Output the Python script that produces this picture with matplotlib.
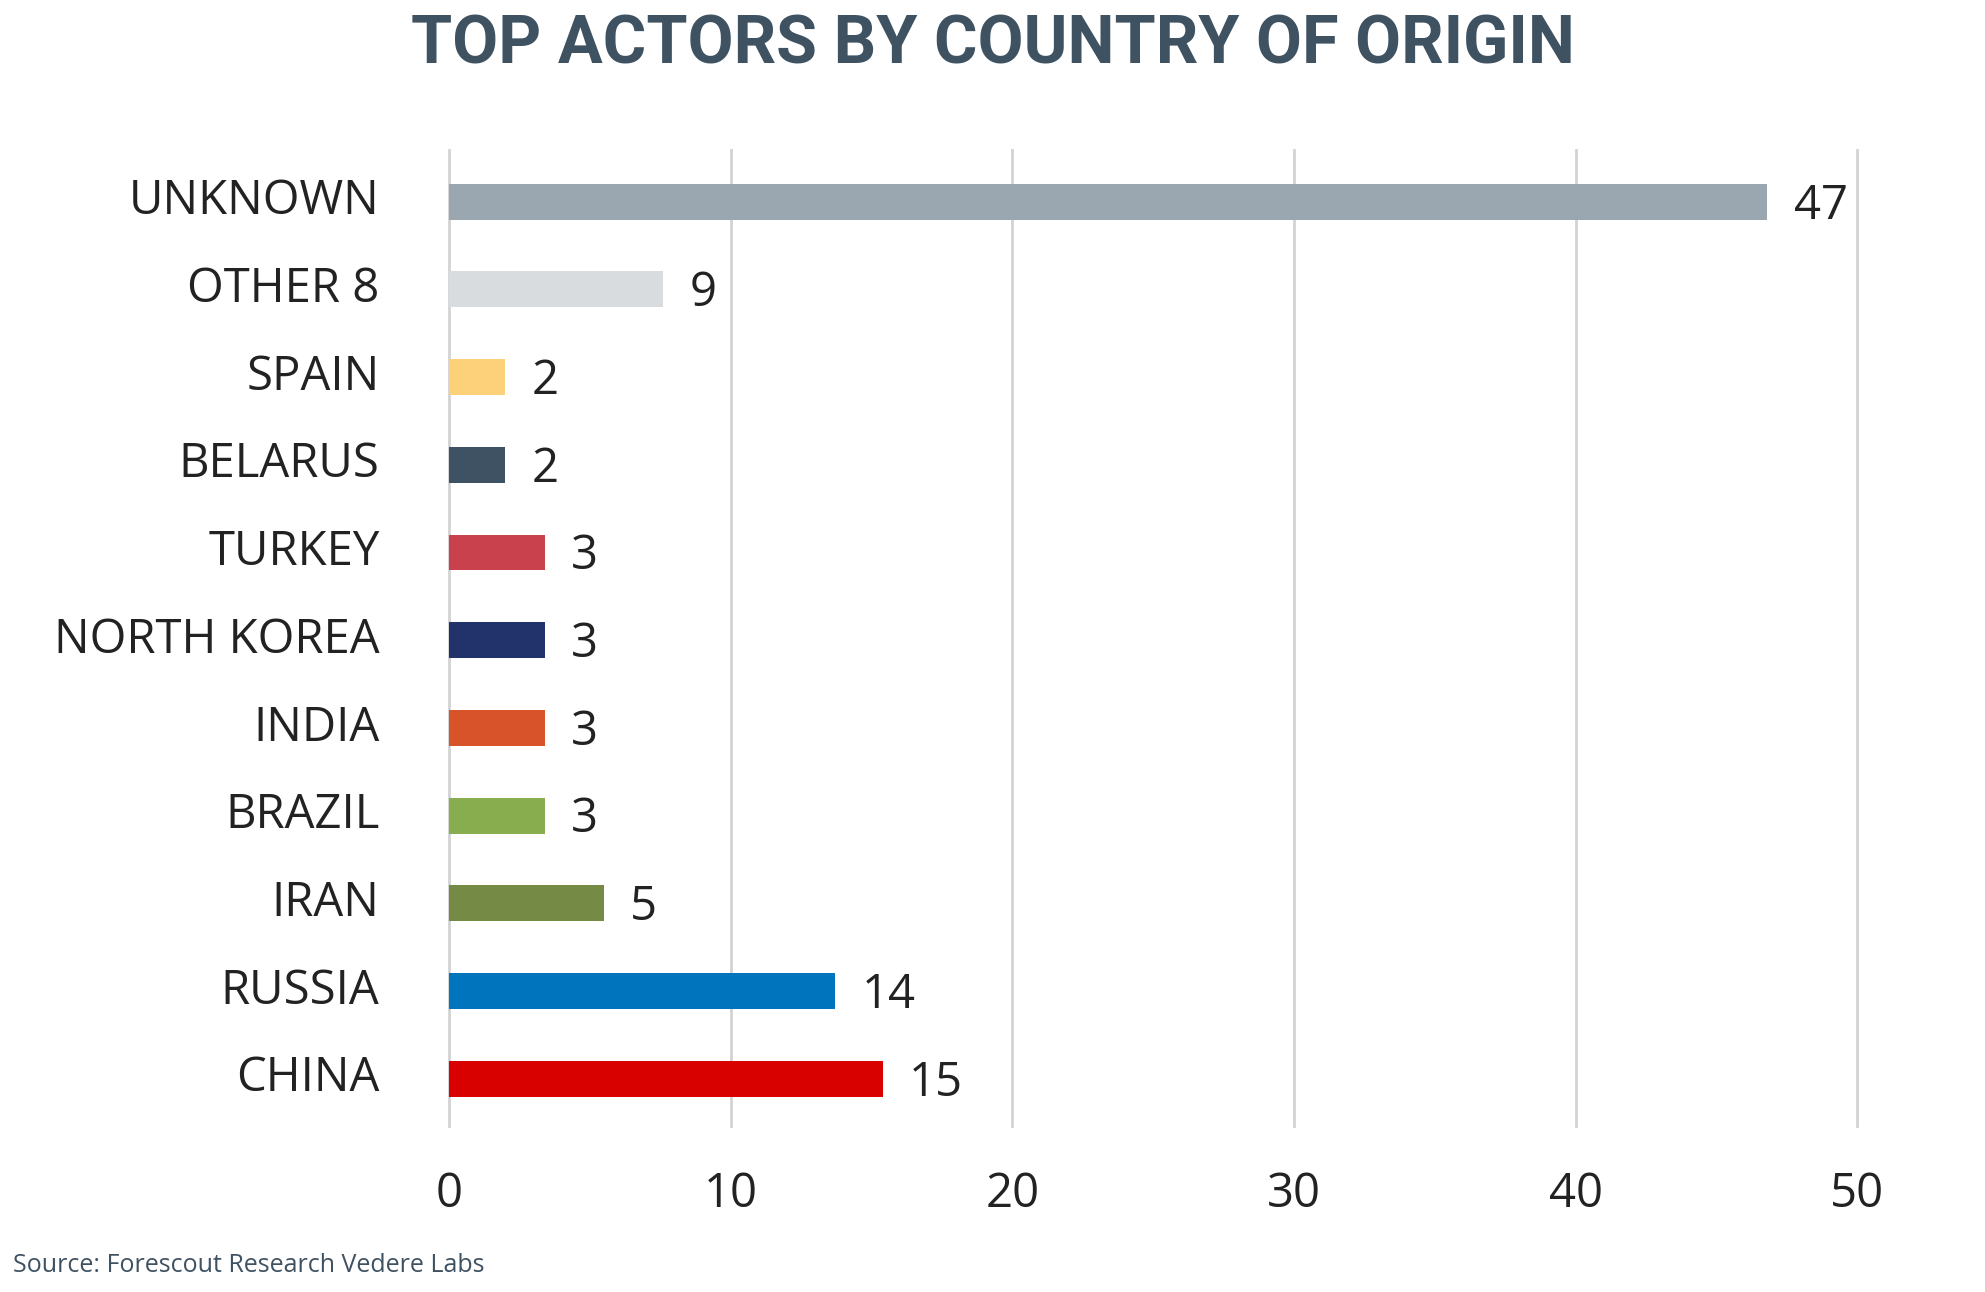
import matplotlib
matplotlib.use("Agg")
import matplotlib.pyplot as plt
import matplotlib.transforms as mtransforms

# data (top to bottom as shown)
countries = ["UNKNOWN", "OTHER 8", "SPAIN", "BELARUS", "TURKEY", "NORTH KOREA",
             "INDIA", "BRAZIL", "IRAN", "RUSSIA", "CHINA"]
counts = [47, 9, 2, 2, 3, 3, 3, 3, 5, 14, 15]
# bar lengths as they are drawn in the source chart
bar_lengths = [46.8, 7.6, 2.0, 2.0, 3.4, 3.4, 3.4, 3.4, 5.5, 13.7, 15.4]
colors = ["#9aa7b1", "#d9dcdf", "#fdd17a", "#3f5263", "#c9414c", "#22336b",
          "#d9532a", "#88ad4f", "#758a44", "#0074bd", "#d90000"]
xticks = [0, 10, 20, 30, 40, 50]

title = "TOP ACTORS BY COUNTRY OF ORIGIN"
source = "Source: Forescout Research Vedere Labs"

plt.rcParams["font.family"] = ["Open Sans", "DejaVu Sans"]

fig = plt.figure(figsize=(19.85, 12.92), dpi=100)
ax = fig.add_axes([0.2262, 0.1285, 0.7095, 0.7554])

n = len(countries)
ypos = [n - 1 - i for i in range(n)]
ax.barh(ypos, bar_lengths, height=0.41, color=colors, zorder=3)

for y, w, c in zip(ypos, bar_lengths, counts):
    ax.annotate(str(c), (w, y), xytext=(19, -3), textcoords="offset points",
                ha="left", va="center", fontsize=34, color="#222222")

ax.set_xlim(0, 50)
ax.set_ylim(-0.54, n - 1 + 0.59)
ax.set_yticks(ypos)
ax.set_yticklabels(countries, fontsize=34, color="#222222")
ax.set_xticks(xticks)
ax.set_xticklabels([str(t) for t in xticks], fontsize=34, color="#222222")
ax.tick_params(axis="y", length=0, pad=50)
ax.tick_params(axis="x", length=0, pad=32)

# category labels sit a little above the bar centre
shift = mtransforms.ScaledTranslation(0, 4 / 72, fig.dpi_scale_trans)
for lbl in ax.get_yticklabels():
    lbl.set_transform(lbl.get_transform() + shift)

for s in ax.spines.values():
    s.set_visible(False)
ax.grid(axis="x", color="#d3d3d3", linewidth=2, zorder=0)
ax.grid(axis="y", visible=False)
for gl in ax.get_xgridlines():
    gl.set_clip_on(False)

fig.text(0.5, 1 - 46 / 1292, title, ha="center", va="center",
         fontsize=48, fontweight="bold", color="#3f5262",
         family=["Liberation Sans Narrow", "Roboto", "DejaVu Sans"])
fig.text(13 / 1985, 1 - 1266 / 1292, source, ha="left", va="center",
         fontsize=18, color="#3f5262")

fig.savefig("out.png", dpi=100, facecolor="white")
